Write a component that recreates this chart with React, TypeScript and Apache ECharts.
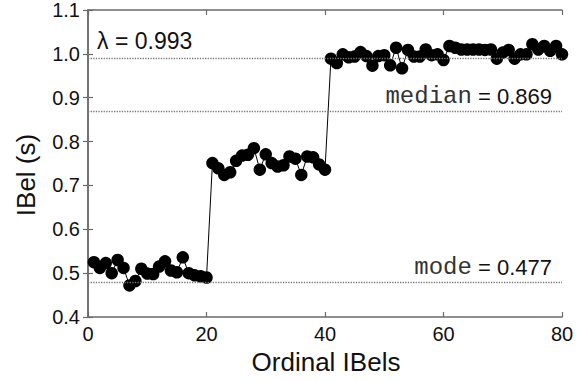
import React, { useEffect, useRef } from "react";
import * as echarts from "echarts";

const ordinals: number[] = Array.from({ length: 80 }, (_, i) => i + 1);
const ibelValues: number[] = [
  0.525, 0.512, 0.523, 0.5, 0.53, 0.512, 0.472, 0.482, 0.51, 0.499,
  0.498, 0.515, 0.527, 0.506, 0.502, 0.536, 0.5, 0.495, 0.493, 0.49,
  0.751, 0.739, 0.724, 0.73, 0.756, 0.768, 0.77, 0.785, 0.736, 0.771,
  0.751, 0.743, 0.746, 0.766, 0.761, 0.724, 0.766, 0.764, 0.748, 0.736,
  0.989, 0.979, 0.999, 0.992, 0.994, 1.004, 0.995, 0.973, 0.995, 0.997,
  0.974, 1.014, 0.967, 1.009, 0.994, 0.994, 1.01, 0.997, 0.999, 0.986,
  1.018, 1.014, 1.01, 1.01, 1.01, 1.01, 1.009, 1.01, 0.989, 1.003,
  1.009, 0.989, 0.999, 0.999, 1.022, 1.01, 1.018, 1.007, 1.018, 0.999,
];
const lambdaValue = 0.993;
const medianValue = 0.869;
const modeValue = 0.477;
const xTicks = { min: 0, max: 80, interval: 20 };
const yTicks = { min: 0.4, max: 1.1, interval: 0.1 };

const SANS = "Liberation Sans, Arial, sans-serif";
const MONO = "Liberation Mono, Courier New, monospace";
const AXIS_COLOR = "#6a6a6a";

export default function App() {
  const ref = useRef<HTMLDivElement>(null);
  useEffect(() => {
    if (!ref.current) return;
    const chart = echarts.init(ref.current, null, { renderer: "svg" });
    const axisLine = { show: true, lineStyle: { color: AXIS_COLOR, width: 1.5 } };
    const axisTick = { show: true, inside: true, length: 5, lineStyle: { color: AXIS_COLOR, width: 1.2 } };
    chart.setOption({
      animation: false,
      backgroundColor: "#ffffff",
      grid: { left: 88, right: 23, top: 7, bottom: 64, containLabel: false },
      xAxis: [
        {
          type: "value",
          ...xTicks,
          axisLine,
          axisTick,
          splitLine: { show: false },
          axisLabel: { fontFamily: SANS, fontSize: 20, color: "#111", margin: 7 },
        },
        {
          type: "value",
          position: "top",
          ...xTicks,
          axisLine,
          axisTick,
          splitLine: { show: false },
          axisLabel: { show: false },
        },
      ],
      yAxis: [
        {
          type: "value",
          ...yTicks,
          axisLine,
          axisTick,
          splitLine: { show: false },
          axisLabel: {
            fontFamily: SANS,
            fontSize: 20,
            color: "#111",
            margin: 8,
            formatter: (v: number) => v.toFixed(1),
          },
        },
        {
          type: "value",
          position: "right",
          ...yTicks,
          axisLine,
          axisTick,
          splitLine: { show: false },
          axisLabel: { show: false },
        },
      ],
      graphic: [
        {
          type: "text",
          x: 326,
          y: 362,
          style: {
            text: "Ordinal IBels",
            font: `26px ${SANS}`,
            fill: "#111",
            align: "center",
            verticalAlign: "middle",
          },
        },
        {
          type: "text",
          x: 26,
          y: 175,
          rotation: Math.PI / 2,
          style: {
            text: "IBel (s)",
            font: `26px ${SANS}`,
            fill: "#111",
            align: "center",
            verticalAlign: "middle",
          },
        },
      ],
      series: [
        {
          type: "line",
          data: ordinals.map((x, i) => [x, ibelValues[i]]),
          symbol: "circle",
          symbolSize: 12.5,
          itemStyle: { color: "#000" },
          lineStyle: { color: "#000", width: 1 },
          markLine: {
            silent: true,
            symbol: ["none", "none"],
            lineStyle: { type: "dotted", color: "#777", width: 1.3 },
            data: [
              {
                yAxis: lambdaValue,
                label: {
                  position: "insideStartTop",
                  distance: [9, 6],
                  formatter: `λ = ${lambdaValue}`,
                  fontFamily: SANS,
                  fontSize: 23,
                  color: "#111",
                },
              },
              {
                yAxis: medianValue,
                label: {
                  position: "insideEndTop",
                  distance: [10, 2],
                  formatter: `{m|median}{a| = ${medianValue}}`,
                  rich: {
                    m: { fontFamily: MONO, fontSize: 24, color: "#333" },
                    a: { fontFamily: SANS, fontSize: 22, color: "#111" },
                  },
                },
              },
              {
                yAxis: modeValue,
                label: {
                  position: "insideEndTop",
                  distance: [10, 2],
                  formatter: `{m|mode}{a| = ${modeValue}}`,
                  rich: {
                    m: { fontFamily: MONO, fontSize: 24, color: "#333" },
                    a: { fontFamily: SANS, fontSize: 22, color: "#111" },
                  },
                },
              },
            ],
          },
        },
      ],
    });
    return () => chart.dispose();
  }, []);
  return <div ref={ref} style={{ width: 585, height: 381, position: "absolute", left: 0, top: 0 }} />;
}
